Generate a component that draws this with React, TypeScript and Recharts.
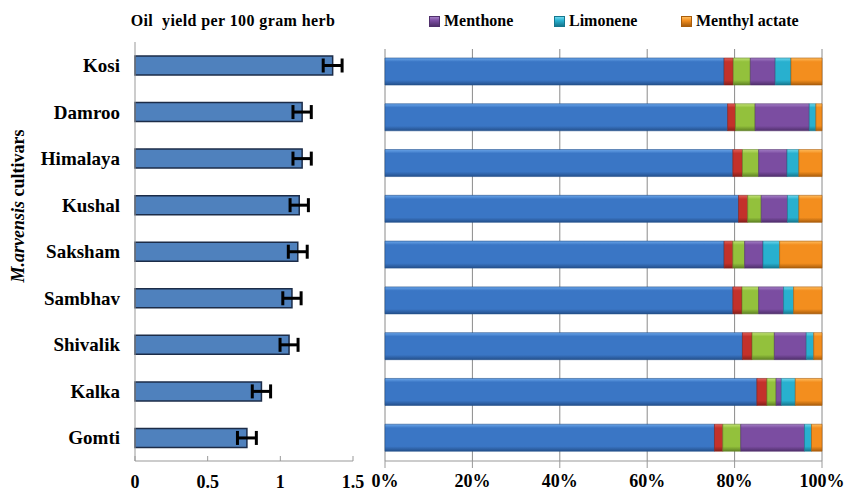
import React from "react";
import {
  BarChart,
  Bar,
  XAxis,
  YAxis,
  CartesianGrid,
  ErrorBar,
} from "recharts";

const cultivars = ["Kosi", "Damroo", "Himalaya", "Kushal", "Saksham", "Sambhav", "Shivalik", "Kalka", "Gomti"];
const oilYield = [1.36, 1.15, 1.15, 1.13, 1.12, 1.08, 1.06, 0.87, 0.77];
const oilError = [0.065, 0.063, 0.063, 0.063, 0.065, 0.063, 0.062, 0.063, 0.065];

// composition, % of oil
const menthol = [77.6, 78.4, 79.6, 80.9, 77.6, 79.6, 81.8, 85.1, 75.4];
const neomenthol = [2.1, 1.8, 2.2, 2.1, 2.0, 2.1, 2.2, 2.3, 1.9];
const isomenthone = [3.9, 4.5, 3.7, 3.1, 2.7, 3.8, 5.1, 2.1, 4.1];
const menthone = [5.7, 12.4, 6.5, 6.0, 4.2, 5.7, 7.3, 1.2, 14.6];
const limonene = [3.6, 1.5, 2.7, 2.6, 3.8, 2.3, 1.7, 3.2, 1.6];
const menthylAcetate = [7.1, 1.4, 5.3, 5.3, 9.7, 6.5, 1.9, 6.1, 2.4];

const yieldTicks = [0, 0.5, 1, 1.5];
const pctTicks = [0, 0.2, 0.4, 0.6, 0.8, 1];

const series = [
  { key: "menthol", name: "Menthol", values: menthol, light: "#6aa6ea", main: "#3a76c5", dark: "#24508c", legend: false },
  { key: "neomenthol", name: "Neomenthol", values: neomenthol, light: "#e2615a", main: "#c3312b", dark: "#84201b", legend: false },
  { key: "isomenthone", name: "Isomenthone", values: isomenthone, light: "#c2e276", main: "#93c13c", dark: "#5f8224", legend: false },
  { key: "menthone", name: "Menthone", values: menthone, light: "#a47fc6", main: "#7b4da1", dark: "#50306c", legend: true },
  { key: "limonene", name: "Limonene", values: limonene, light: "#70d8ee", main: "#28b0cf", dark: "#16778e", legend: true },
  { key: "menthylAcetate", name: "Menthyl actate", values: menthylAcetate, light: "#ffbd5e", main: "#f38e1e", dark: "#a95d0c", legend: true },
];

const yieldData = cultivars.map((name, i) => ({ name, oil: oilYield[i], err: oilError[i] }));

const compData = cultivars.map((name, i) => {
  const row: Record<string, string | number> = { name };
  series.forEach((s) => {
    row[s.key] = s.values[i];
  });
  return row;
});

const font = '"Liberation Serif", "Times New Roman", serif';

const YLabel = () => (
  <text
    x={18}
    y={206}
    transform="rotate(-90 18 206)"
    textAnchor="middle"
    dominantBaseline="central"
    fontFamily={font}
    fontWeight="bold"
    fontSize={18}
    fill="#000"
  >
    <tspan fontStyle="italic">M.arvensis</tspan>
    <tspan> cultivars</tspan>
  </text>
);

export default function App() {
  return (
    <div
      style={{
        position: "absolute",
        left: 0,
        top: 0,
        width: 847,
        height: 491,
        background: "#fff",
        fontFamily: font,
      }}
    >
      <div
        style={{
          position: "absolute",
          left: 103,
          top: 12,
          width: 260,
          textAlign: "center",
          fontWeight: "bold",
          fontSize: 16,
          letterSpacing: 0.4,
          whiteSpace: "pre",
        }}
      >
        {"Oil  yield per 100 gram herb"}
      </div>

      <div style={{ position: "absolute", left: 0, top: 0 }}>
        <BarChart
          layout="vertical"
          width={380}
          height={491}
          data={yieldData}
          margin={{ top: 42, right: 27, bottom: 0, left: 0 }}
        >
          <XAxis
            type="number"
            domain={[0, 1.5]}
            ticks={yieldTicks}
            height={30}
            axisLine={{ stroke: "#999" }}
            tickLine={{ stroke: "#999" }}
            tickSize={-5}
            tickMargin={19}
            tick={{ fill: "#000", fontFamily: font, fontWeight: "bold", fontSize: 18 }}
          />
          <YAxis
            type="category"
            dataKey="name"
            width={135}
            axisLine={{ stroke: "#999" }}
            tickLine={false}
            tickSize={0}
            tickMargin={15}
            tick={{ fill: "#000", fontFamily: font, fontWeight: "bold", fontSize: 19 }}
            label={<YLabel />}
          />
          <Bar
            dataKey="oil"
            fill="#4f81bd"
            stroke="#1c2c48"
            strokeWidth={1.5}
            barSize={19}
            isAnimationActive={false}
          >
            <ErrorBar dataKey="err" direction="x" width={7} strokeWidth={3} stroke="#000" />
          </Bar>
        </BarChart>
      </div>

      {series
        .filter((s) => s.legend)
        .map((s, i) => (
          <div
            key={s.key}
            style={{
              position: "absolute",
              left: [429, 554, 681][i],
              top: 12,
              display: "flex",
              alignItems: "center",
              fontWeight: "bold",
              fontSize: 16,
            }}
          >
            <span
              style={{
                display: "inline-block",
                width: 9,
                height: 9,
                marginRight: 4,
                background: `linear-gradient(${s.light}, ${s.main} 40%, ${s.dark})`,
                border: `1px solid ${s.dark}`,
              }}
            />
            {s.name}
          </div>
        ))}

      <div style={{ position: "absolute", left: 360, top: 0 }}>
        <BarChart
          layout="vertical"
          width={487}
          height={491}
          data={compData}
          stackOffset="expand"
          barSize={27}
          margin={{ top: 49, right: 25, bottom: 0, left: 25 }}
        >
          <defs>
            {series.map((s) => (
              <linearGradient key={s.key} id={`g-${s.key}`} x1="0" y1="0" x2="0" y2="1">
                <stop offset="0%" stopColor={s.light} />
                <stop offset="14%" stopColor={s.main} />
                <stop offset="82%" stopColor={s.main} />
                <stop offset="100%" stopColor={s.dark} />
              </linearGradient>
            ))}
          </defs>
          <CartesianGrid horizontal={false} stroke="#8a8a8a" />
          <XAxis
            type="number"
            domain={[0, 1]}
            ticks={pctTicks}
            height={30}
            axisLine={{ stroke: "#999" }}
            tickLine={{ stroke: "#999" }}
            tickSize={7}
            tickMargin={6}
            tickFormatter={(v: number) => `${Math.round(v * 100)}%`}
            tick={{ fill: "#000", fontFamily: font, fontWeight: "bold", fontSize: 18 }}
          />
          <YAxis
            type="category"
            dataKey="name"
            width={0}
            tick={false}
            tickLine={false}
            axisLine={{ stroke: "#999" }}
          />
          {series.map((s) => (
            <Bar
              key={s.key}
              dataKey={s.key}
              name={s.name}
              stackId="comp"
              fill={`url(#g-${s.key})`}
              stroke={s.dark}
              strokeWidth={0.6}
              isAnimationActive={false}
            />
          ))}
        </BarChart>
      </div>
    </div>
  );
}
